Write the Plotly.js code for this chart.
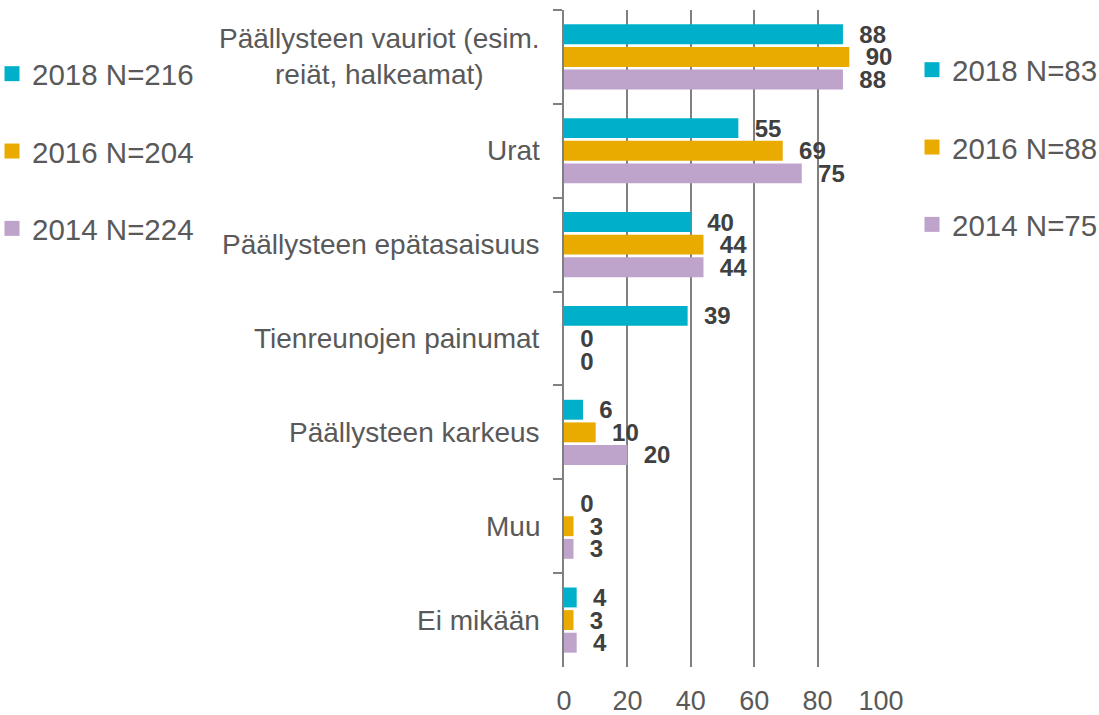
<!DOCTYPE html>
<html>
<head>
<meta charset="utf-8">
<script src="https://cdn.plot.ly/plotly-3.0.1.min.js"></script>
<style>html,body{margin:0;padding:0;background:#fff;}#chart{width:1099px;height:715px;}</style>
</head>
<body>
<div id="chart"></div>
<script>
var categories = ["Päällysteen vauriot (esim.<br>reiät, halkeamat)", "Urat", "Päällysteen epätasaisuus", "Tienreunojen painumat", "Päällysteen karkeus", "Muu", "Ei mikään"];
var seriesNames = ["2018", "2016", "2014"];
var v2018 = [88, 55, 40, 39, 6, 0, 4];
var v2016 = [90, 69, 44, 0, 10, 3, 3];
var v2014 = [88, 75, 44, 0, 20, 3, 4];
var legendRight = ["2018 N=83", "2016 N=88", "2014 N=75"];
var legendLeft = ["2018 N=216", "2016 N=204", "2014 N=224"];
var xTicks = [0, 20, 40, 60, 80, 100];

var colors = ["#00B0CA", "#EAAB00", "#BEA3CB"];
var values = [v2018, v2016, v2014];
var FONT = "Liberation Sans, Arial, sans-serif";
var NB = "\u00a0\u00a0";

var traces = [];
values.forEach(function (vals, i) {
  traces.push({
    type: "bar",
    orientation: "h",
    name: seriesNames[i],
    legendgroup: "g" + seriesNames[i],
    showlegend: false,
    y: categories,
    x: vals,
    text: vals.map(function (v) { return NB + v; }),
    textposition: "outside",
    constraintext: "none",
    cliponaxis: false,
    textfont: {family: FONT, size: 24, color: "#404040", weight: "bold"},
    marker: {color: colors[i]},
    hoverinfo: "x+name"
  });
});
// legend entries (right: same series, left: other N)
seriesNames.forEach(function (s, i) {
  traces.push({
    type: "scatter", mode: "markers", x: [null], y: [null],
    name: legendRight[i], legendgroup: "g" + s, legend: "legend",
    marker: {symbol: "square", size: 15, color: colors[i]},
    hoverinfo: "skip"
  });
});
seriesNames.forEach(function (s, i) {
  traces.push({
    type: "scatter", mode: "markers", x: [null], y: [null],
    name: legendLeft[i], legendgroup: "L" + s, legend: "legend2",
    marker: {symbol: "square", size: 15, color: colors[i]},
    hoverinfo: "skip"
  });
});

var annotations = categories.map(function (c) {
  return {
    text: c, xref: "paper", x: 0, xanchor: "right", xshift: -22,
    yref: "y", y: c, yanchor: "middle", align: "center", showarrow: false,
    font: {family: FONT, size: 28, color: "#595959"}
  };
});

var plotW = 1099 - 564 - 218;
var plotH = 715 - 10 - 48;
function px2x(p) { return (p - 564) / plotW; }
function px2y(p) { return (667 - p) / plotH; }

var layout = {
  width: 1099, height: 715,
  margin: {l: 564, r: 218, t: 10, b: 48, autoexpand: false},
  paper_bgcolor: "#fff", plot_bgcolor: "#fff",
  font: {family: FONT, color: "#595959"},
  barmode: "group", bargap: 0.277, bargroupgap: 0.12,
  xaxis: {
    range: [0, 100], tickvals: xTicks, ticks: "", showgrid: true,
    gridcolor: "#808080", gridwidth: 2, zeroline: false, showline: false,
    tickfont: {family: FONT, size: 27, color: "#595959"}, ticklabelstandoff: 15,
    fixedrange: true
  },
  yaxis: {
    type: "category", categoryorder: "array", categoryarray: categories,
    autorange: "reversed", showticklabels: false, showgrid: false,
    tickson: "boundaries", ticks: "outside", ticklen: 9, tickwidth: 2, tickcolor: "#808080",
    showline: true, linecolor: "#808080", linewidth: 2, zeroline: false, fixedrange: true
  },
  showlegend: true,
  legend: {
    x: px2x(912), xanchor: "left", y: px2y(44), yanchor: "top",
    bgcolor: "rgba(0,0,0,0)", borderwidth: 0, tracegroupgap: 36,
    font: {family: FONT, size: 29.5, color: "#595959"}
  },
  legend2: {
    x: px2x(-8), xanchor: "left", y: px2y(48), yanchor: "top",
    bgcolor: "rgba(0,0,0,0)", borderwidth: 0, tracegroupgap: 36,
    font: {family: FONT, size: 29.5, color: "#595959"}
  },
  annotations: annotations
};

Plotly.newPlot("chart", traces, layout, {displayModeBar: false, staticPlot: true});
</script>
</body>
</html>
